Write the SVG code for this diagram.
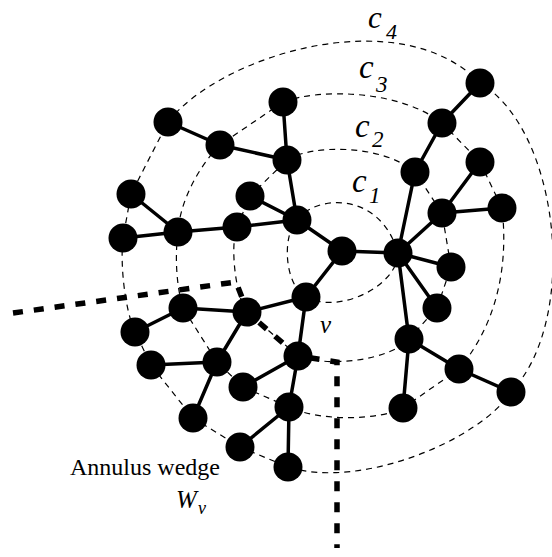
<svg xmlns="http://www.w3.org/2000/svg" width="552" height="557" viewBox="0 0 552 557">
<style>
.ring{fill:none;stroke:#000;stroke-width:1.2;stroke-dasharray:6 5}
.edge{stroke:#000;stroke-width:3.5;fill:none}
.wedge{fill:none;stroke:#000;stroke-width:5.5;stroke-dasharray:10 11}
.n{fill:#000}
.lab{font-family:"Liberation Serif","Times New Roman",serif;font-style:italic;fill:#000}
.txt{font-family:"Liberation Serif","Times New Roman",serif;fill:#000}
</style>
<rect width="552" height="557" fill="#fff"/>
<g id="rings">
<path id="ring-c1" class="ring" d="M297,220 C315,195 380,190 398,253 C398,285 340,315 306,297 C284,285 282,235 297,220 Z"/>
<path id="ring-c2" class="ring" d="M287,160 C310,145 380,143 415,172 L442,213 L451,267 L437,308 L409,339 C390,360 330,368 298,356 L247,312 C235,295 230,245 237,227 L250,196 L287,160 Z"/>
<path id="ring-c3" class="ring" d="M283,102 C320,88 400,90 442,123 L480,162 L502,208 C508,260 500,320 459,369 L403,408 C380,420 320,422 289,407 L243,387 L217,362 L183,308 C176,285 175,255 178,232 C180,200 200,165 220,145 L283,102 Z"/>
<path id="ring-c4" class="ring" d="M168,122 C220,55 400,0 480,83 C560,130 580,320 511,392 C480,440 360,490 288,467 L240,447 L193,418 L151,365 L135,332 C125,310 120,265 123,238 L131,194 L168,122 Z"/>
</g>
<g id="wedge">
<path class="wedge" d="M13,313 L236,282 L248,313 L298,356 L337,362 L337,548"/>
</g>
<g id="connectors">
<path class="edge" d="M342,251 L398,253 M342,251 L297,220 M342,251 L306,297
M297,220 L287,160 M297,220 L250,196 M297,220 L237,227
M287,160 L283,102 M287,160 L220,145 M220,145 L168,122
M237,227 L178,232 M178,232 L131,194 M178,232 L123,238
M306,297 L247,312 M306,297 L298,356
M247,312 L183,308 M247,312 L217,362 M183,308 L135,332
M217,362 L151,365 M217,362 L193,418
M298,356 L243,387 M298,356 L289,407
M289,407 L240,447 M289,407 L288,467
M398,253 L415,172 M415,172 L442,123 M442,123 L480,83
M398,253 L442,213 M442,213 L480,162 M442,213 L502,208
M398,253 L451,267 M398,253 L437,308 M398,253 L409,339
M409,339 L459,369 M459,369 L511,392 M409,339 L403,408"/>
</g>
<g id="node-root"><circle class="n" cx="342" cy="251" r="14.5"/></g>
<g id="node-hub"><circle class="n" cx="398" cy="253" r="14.5"/></g>
<g id="node-3"><circle class="n" cx="297" cy="220" r="14.5"/></g>
<g id="node-4"><circle class="n" cx="287" cy="160" r="14.5"/></g>
<g id="node-5"><circle class="n" cx="283" cy="102" r="14.5"/></g>
<g id="node-6"><circle class="n" cx="220" cy="145" r="14.5"/></g>
<g id="node-7"><circle class="n" cx="168" cy="122" r="14.5"/></g>
<g id="node-8"><circle class="n" cx="250" cy="196" r="14.5"/></g>
<g id="node-9"><circle class="n" cx="237" cy="227" r="14.5"/></g>
<g id="node-10"><circle class="n" cx="178" cy="232" r="14.5"/></g>
<g id="node-11"><circle class="n" cx="131" cy="194" r="14.5"/></g>
<g id="node-12"><circle class="n" cx="123" cy="238" r="14.5"/></g>
<g id="node-13"><circle class="n" cx="306" cy="297" r="14.5"/></g>
<g id="node-14"><circle class="n" cx="247" cy="312" r="14.5"/></g>
<g id="node-15"><circle class="n" cx="183" cy="308" r="14.5"/></g>
<g id="node-16"><circle class="n" cx="135" cy="332" r="14.5"/></g>
<g id="node-17"><circle class="n" cx="217" cy="362" r="14.5"/></g>
<g id="node-18"><circle class="n" cx="151" cy="365" r="14.5"/></g>
<g id="node-19"><circle class="n" cx="193" cy="418" r="14.5"/></g>
<g id="node-v"><circle class="n" cx="298" cy="356" r="14.5"/></g>
<g id="node-21"><circle class="n" cx="243" cy="387" r="14.5"/></g>
<g id="node-22"><circle class="n" cx="289" cy="407" r="14.5"/></g>
<g id="node-23"><circle class="n" cx="240" cy="447" r="14.5"/></g>
<g id="node-24"><circle class="n" cx="288" cy="467" r="14.5"/></g>
<g id="node-25"><circle class="n" cx="415" cy="172" r="14.5"/></g>
<g id="node-26"><circle class="n" cx="442" cy="123" r="14.5"/></g>
<g id="node-27"><circle class="n" cx="480" cy="83" r="14.5"/></g>
<g id="node-28"><circle class="n" cx="442" cy="213" r="14.5"/></g>
<g id="node-29"><circle class="n" cx="480" cy="162" r="14.5"/></g>
<g id="node-30"><circle class="n" cx="502" cy="208" r="14.5"/></g>
<g id="node-31"><circle class="n" cx="451" cy="267" r="14.5"/></g>
<g id="node-32"><circle class="n" cx="437" cy="308" r="14.5"/></g>
<g id="node-33"><circle class="n" cx="409" cy="339" r="14.5"/></g>
<g id="node-34"><circle class="n" cx="459" cy="369" r="14.5"/></g>
<g id="node-35"><circle class="n" cx="511" cy="392" r="14.5"/></g>
<g id="node-36"><circle class="n" cx="403" cy="408" r="14.5"/></g>
<g id="labels">
<text class="lab" font-size="31" x="368" y="28">c<tspan font-size="22" x="386" y="39">4</tspan></text>
<text class="lab" font-size="33" x="359" y="78">c<tspan font-size="23" x="376" y="92">3</tspan></text>
<text class="lab" font-size="33" x="355" y="137">c<tspan font-size="23" x="372" y="147">2</tspan></text>
<text class="lab" font-size="33" x="352" y="192">c<tspan font-size="23" x="369" y="203">1</tspan></text>
<text class="lab" font-size="25" x="320" y="333">v</text>
<text class="txt" font-size="24" x="70" y="475">Annulus wedge</text>
<text class="lab" font-size="25" x="176" y="508">W<tspan font-size="18" x="198" y="514">v</tspan></text>
</g>
</svg>
